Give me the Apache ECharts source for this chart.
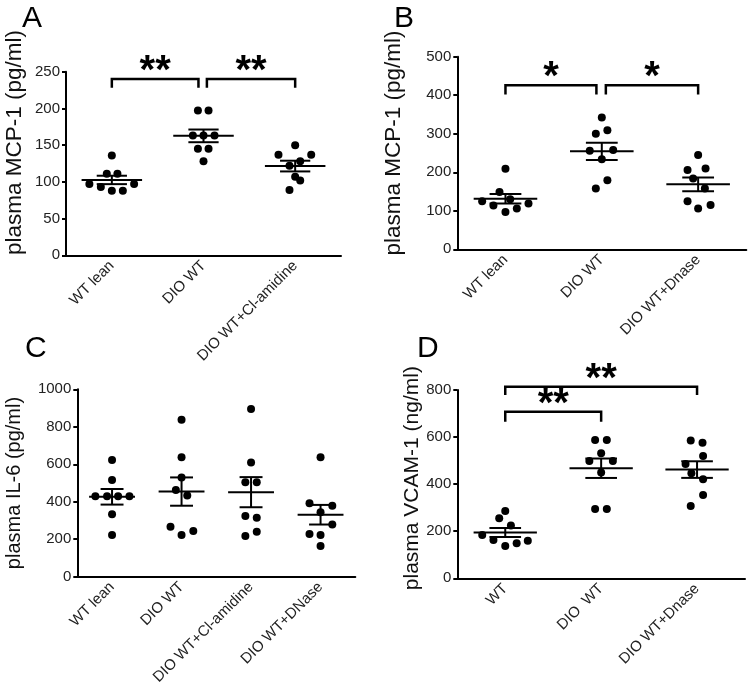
<!DOCTYPE html>
<html>
<head>
<meta charset="utf-8">
<script src="https://cdn.jsdelivr.net/npm/echarts@6/dist/echarts.min.js"></script>
<style>html,body{margin:0;padding:0;background:#fff;}#c{width:750px;height:694px;}</style>
</head>
<body>
<div id="c"></div>
<script>
// ---------- DATA ----------
const catsA = ['WT lean', 'DIO WT', 'DIO WT+Cl-amidine'];
const valsA = [
  [136, 111, 111, 97, 97, 93, 88, 88],
  [197, 197, 163, 163, 163, 145, 145, 128],
  [150, 137, 137, 128, 122, 107, 102, 89]
];
const jitA = [
  [0, -0.055, 0.061, -0.245, 0.243, -0.12, 0, 0.12],
  [-0.061, 0.055, -0.116, 0, 0.12, -0.061, 0.055, 0],
  [0, -0.182, 0.175, 0.055, -0.062, 0, 0.055, -0.062]
];
const ticksA = [0, 250, 50];
const nameA = 'plasma MCP-1 (pg/ml)';
const brA = [[0, 0.945, 240, 228], [1.037, 2, 240, 228]];
const starsA = ['**', '**'];

const catsB = ['WT lean', 'DIO WT', 'DIO WT+Dnase'];
const valsB = [
  [209, 149, 125, 114, 130, 119, 97, 106],
  [342, 300, 309, 256, 258, 234, 179, 158],
  [245, 206, 210, 184, 158, 125, 106, 115]
];
const jitB = [
  [0, -0.062, -0.242, -0.125, 0.049, 0.239, 0, 0.118],
  [0, -0.062, 0.058, -0.125, 0.118, 0, 0.058, -0.062],
  [0, -0.11, 0.077, -0.052, 0.07, -0.11, 0, 0.129]
];
const ticksB = [0, 500, 100];
const nameB = 'plasma MCP-1 (pg/ml)';
const brB = [[0, 0.944, 426, 402], [1.042, 2, 426, 402]];
const starsB = ['*', '*'];

const catsC = ['WT lean', 'DIO WT', 'DIO WT+Cl-amidine', 'DIO WT+DNase'];
const valsC = [
  [623, 516, 429, 429, 429, 429, 333, 223],
  [837, 638, 529, 463, 433, 267, 223, 244],
  [895, 609, 504, 504, 324, 315, 217, 240],
  [638, 392, 379, 344, 278, 228, 223, 164]
];
const jitC = [
  [0, 0, -0.24, -0.072, 0.087, 0.25, 0, 0],
  [0, 0, 0, -0.082, 0.082, -0.159, 0, 0.169],
  [0, 0, -0.082, 0.082, -0.082, 0.082, -0.082, 0.082],
  [0, -0.159, 0.169, 0, 0.169, -0.159, 0, 0]
];
const ticksC = [0, 1000, 200];
const nameC = 'plasma IL-6 (pg/ml)';
const brC = [];
const starsC = [];

const catsD = ['WT', 'DIO  WT', 'DIO WT+Dnase'];
const valsD = [
  [286, 255, 224, 184, 163, 137, 149, 160],
  [588, 588, 531, 498, 498, 450, 294, 294],
  [585, 576, 520, 486, 446, 421, 354, 307]
];
const jitD = [
  [0, -0.063, 0.059, -0.24, -0.123, 0, 0.119, 0.235],
  [-0.063, 0.059, 0, -0.123, 0.122, 0, -0.063, 0.059],
  [-0.066, 0.057, 0.063, -0.12, -0.059, 0.063, 0.063, -0.066]
];
const ticksD = [0, 800, 200];
const nameD = 'plasma VCAM-1 (ng/ml)';
const brD = [[0, 2, 814, 779], [0, 1, 708, 665]];
const starsD = ['**', '**'];

const letters = ['A', 'B', 'C', 'D'];

// ---------- LAYOUT / STYLE ----------
const FONT = '"Liberation Sans", Arial, sans-serif';
const panels = [
  {cats: catsA, vals: valsA, jit: jitA, ticks: ticksA, name: nameA, br: brA, stars: starsA,
   grid: {left: 66, top: 71.7, width: 275, height: 183.6}, nameSize: 22.5, nameGap: 40, namePad: 42,
   letter: {left: 17, top: -1}},
  {cats: catsB, vals: valsB, jit: jitB, ticks: ticksB, name: nameB, br: brB, stars: starsB,
   grid: {left: 457.3, top: 56.7, width: 289, height: 192.6}, nameSize: 22.5, nameGap: 52, namePad: 20,
   letter: {left: 389, top: -1}},
  {cats: catsC, vals: valsC, jit: jitC, ticks: ticksC, name: nameC, br: brC, stars: starsC,
   grid: {left: 77.3, top: 389.3, width: 278, height: 187.4}, nameSize: 20, nameGap: 53, namePad: 0,
   letter: {left: 20, top: 329}},
  {cats: catsD, vals: valsD, jit: jitD, ticks: ticksD, name: nameD, br: brD, stars: starsD,
   grid: {left: 457.3, top: 390, width: 287.7, height: 188.3}, nameSize: 21, nameGap: 33, namePad: 12,
   letter: {left: 412, top: 329}}
];

function meanSem(arr) {
  const n = arr.length;
  const m = arr.reduce((a, b) => a + b, 0) / n;
  const sd = Math.sqrt(arr.reduce((a, b) => a + (b - m) * (b - m), 0) / (n - 1));
  return [m, sd / Math.sqrt(n)];
}

const grid = [], xAxis = [], yAxis = [], series = [], title = [];
panels.forEach((p, i) => {
  grid.push(Object.assign({containLabel: false}, p.grid));
  title.push({text: letters[i], left: p.letter.left, top: p.letter.top,
    textStyle: {fontFamily: FONT, fontSize: 30, fontWeight: 'normal', color: '#000'}});
  xAxis.push({
    type: 'category', gridIndex: i, data: p.cats, boundaryGap: true,
    axisLine: {onZero: false, lineStyle: {color: '#000', width: 2}},
    axisTick: {alignWithLabel: true, length: 5, lineStyle: {color: '#000', width: 2}},
    axisLabel: {interval: 0, rotate: 45, margin: 8, fontFamily: FONT, fontSize: 15, color: '#222'},
    splitLine: {show: false}
  });
  xAxis.push({type: 'value', gridIndex: i, min: -0.5, max: p.cats.length - 0.5, show: false,
    splitLine: {show: false}});
  yAxis.push({
    type: 'value', gridIndex: i, min: p.ticks[0], max: p.ticks[1], interval: p.ticks[2],
    name: p.name, nameLocation: 'middle', nameGap: p.nameGap,
    nameTextStyle: {fontFamily: FONT, fontSize: p.nameSize, color: '#111', padding: [0, 0, 0, p.namePad]},
    axisLine: {show: true, onZero: false, lineStyle: {color: '#000', width: 2}},
    axisTick: {show: true, length: 4, lineStyle: {color: '#000', width: 2}},
    axisLabel: {margin: 6, fontFamily: FONT, fontSize: 15, color: '#222', formatter: v => String(v)},
    splitLine: {show: false}
  });
  // points
  const pts = [];
  p.vals.forEach((g, gi) => g.forEach((v, k) => pts.push([gi + p.jit[gi][k], v])));
  series.push({type: 'scatter', xAxisIndex: 2 * i + 1, yAxisIndex: i, data: pts,
    symbol: 'circle', symbolSize: 8, itemStyle: {color: '#000', opacity: 1}, z: 3, silent: true});
  // mean +- sem
  const ms = p.vals.map((g, gi) => { const r = meanSem(g); return [gi, r[0], r[1]]; });
  series.push({type: 'custom', xAxisIndex: 2 * i + 1, yAxisIndex: i, data: ms, z: 4, silent: true,
    renderItem: function (params, api) {
      const x = api.value(0), m = api.value(1), s = api.value(2);
      const w = api.size([1, 0])[0];
      const c = api.coord([x, m]), t = api.coord([x, m + s]), b = api.coord([x, m - s]);
      const st = {stroke: '#000', lineWidth: 2};
      return {type: 'group', children: [
        {type: 'line', shape: {x1: c[0] - 0.33 * w, y1: c[1], x2: c[0] + 0.33 * w, y2: c[1]}, style: st},
        {type: 'line', shape: {x1: t[0] - 0.165 * w, y1: t[1], x2: t[0] + 0.165 * w, y2: t[1]}, style: st},
        {type: 'line', shape: {x1: b[0] - 0.165 * w, y1: b[1], x2: b[0] + 0.165 * w, y2: b[1]}, style: st},
        {type: 'line', shape: {x1: t[0], y1: t[1], x2: b[0], y2: b[1]}, style: st}
      ]};
    }});
  // brackets with stars
  if (p.br.length) {
    const stars = p.stars;
    series.push({type: 'custom', xAxisIndex: 2 * i + 1, yAxisIndex: i, data: p.br, z: 5, silent: true,
      clip: false,
      renderItem: function (params, api) {
        const x1 = api.value(0), x2 = api.value(1), yt = api.value(2), yl = api.value(3);
        const a = api.coord([x1, yl]), b = api.coord([x1, yt]), c = api.coord([x2, yt]), d = api.coord([x2, yl]);
        return {type: 'group', children: [
          {type: 'polyline', shape: {points: [a, b, c, d]}, style: {stroke: '#000', lineWidth: 2.5, fill: null}},
          {type: 'text', style: {text: stars[params.dataIndex], x: (b[0] + c[0]) / 2, y: b[1] - 7,
            align: 'center', verticalAlign: 'middle', fontFamily: FONT, fontSize: 40, fontWeight: 'bold', fill: '#000'}}
        ]};
      }});
  }
});

const chart = echarts.init(document.getElementById('c'), null, {renderer: 'canvas'});
chart.setOption({animation: false, backgroundColor: '#fff', title, grid, xAxis, yAxis, series});
</script>
</body>
</html>
